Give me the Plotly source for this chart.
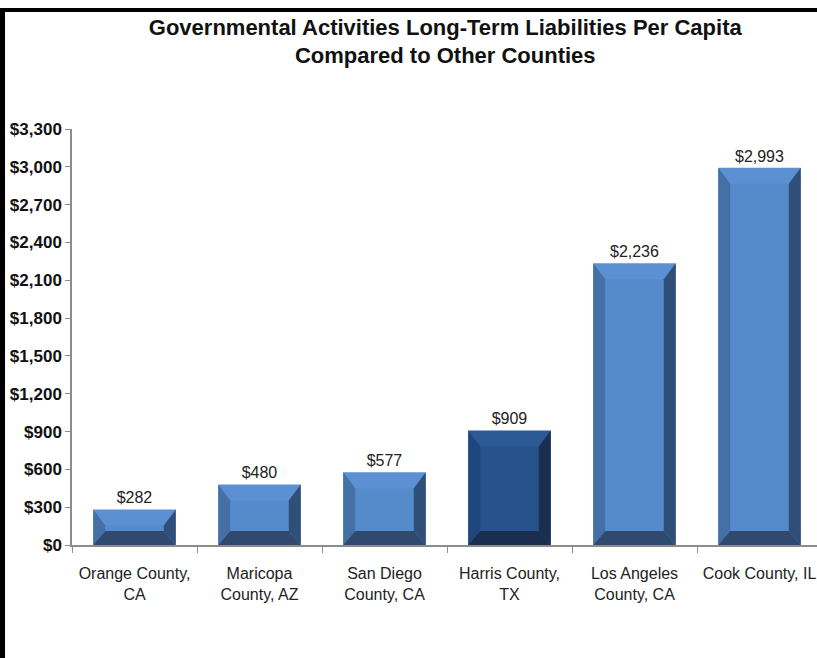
import plotly.graph_objects as go

# data
counties = ["Orange County,<br>CA", "Maricopa<br>County, AZ", "San Diego<br>County, CA",
            "Harris County,<br>TX", "Los Angeles<br>County, CA", "Cook County, IL"]
liabilities = [282, 480, 577, 909, 2236, 2993]
labels = ["$282", "$480", "$577", "$909", "$2,236", "$2,993"]
highlight = "Harris County,<br>TX"

FONT = "Liberation Sans, Arial, sans-serif"

# bevel palettes: top, face, left, right, bottom
normal = dict(top="#5b90d3", face="#568bcb", left="#4570a6", right="#2f4f78", bottom="#2f4a6e")
dark = dict(top="#2b5a96", face="#26518a", left="#1f477d", right="#182f50", bottom="#1a2e4f")

BAR_W = 0.66
DX = 0.096      # side bevel, in category units
DT = 127        # top bevel, in value units
DB = 111        # bottom bevel, in value units

fig = go.Figure()

fig.add_trace(go.Bar(
    x=counties,
    y=liabilities,
    width=BAR_W,
    marker=dict(color=[dark["top"] if c == highlight else normal["top"] for c in counties],
                line=dict(width=0)),
    text=labels,
    textposition="outside",
    textfont=dict(family=FONT, size=16, color="#222222"),
    cliponaxis=False,
    hoverinfo="skip",
))


def poly(xs, ys, color):
    fig.add_trace(go.Scatter(
        x=xs + [xs[0]], y=ys + [ys[0]], xaxis="x2", mode="lines",
        fill="toself", fillcolor=color, line=dict(width=0),
        hoverinfo="skip", showlegend=False,
    ))


# bevel faces drawn over each bar
for i, (c, h) in enumerate(zip(counties, liabilities)):
    pal = dark if c == highlight else normal
    x0, x1 = i - BAR_W / 2, i + BAR_W / 2
    top_in = max(h - DT, DB)
    poly([x0 + DX, x1 - DX, x1 - DX, x0 + DX], [DB, DB, top_in, top_in], pal["face"])
    poly([x0, x0, x0 + DX, x0 + DX], [0, h, top_in, DB], pal["left"])
    poly([x1, x1, x1 - DX, x1 - DX], [0, h, top_in, DB], pal["right"])
    poly([x0, x1, x1 - DX, x0 + DX], [0, 0, DB, DB], pal["bottom"])

XR = [-0.5, 5.46]

fig.update_layout(
    width=817,
    height=658,
    margin=dict(l=72, r=0, t=129, b=113),
    paper_bgcolor="white",
    plot_bgcolor="white",
    showlegend=False,
    title=dict(
        text="Governmental Activities Long-Term Liabilities Per Capita<br>Compared to Other Counties",
        x=0.545, xanchor="center", y=0.947, yanchor="top",
        font=dict(family=FONT, size=22, color="#111111", weight="bold"),
    ),
    xaxis=dict(
        type="category",
        range=XR,
        showline=True, linecolor="#8c8c8c", linewidth=2,
        ticks="outside", tickson="boundaries", ticklen=6, tickcolor="#8c8c8c",
        ticklabelstandoff=13,
        showgrid=False,
        tickfont=dict(family=FONT, size=16, color="#222222"),
    ),
    xaxis2=dict(overlaying="x", range=XR, visible=False),
    yaxis=dict(
        range=[0, 3300],
        dtick=300,
        tickprefix="$",
        tickformat=",",
        showline=True, linecolor="#8c8c8c", linewidth=1.5,
        ticks="outside", ticklen=5, tickcolor="#8c8c8c",
        showgrid=False, zeroline=False,
        tickfont=dict(family=FONT, size=17, color="#111111", weight="bold"),
    ),
    shapes=[
        # black frame along left and top edges of the picture
        dict(type="line", xref="paper", yref="paper",
             x0=-69.5 / 745, x1=-69.5 / 745, y0=(545 - 8) / 416, y1=(545 - 660) / 416,
             line=dict(color="black", width=5)),
        dict(type="line", xref="paper", yref="paper",
             x0=-72 / 745, x1=750 / 745, y0=(545 - 10) / 416, y1=(545 - 10) / 416,
             line=dict(color="black", width=4)),
    ],
)

fig.write_html("out.html", config={"displayModeBar": False},
               post_script="document.body.style.margin = '0';")
